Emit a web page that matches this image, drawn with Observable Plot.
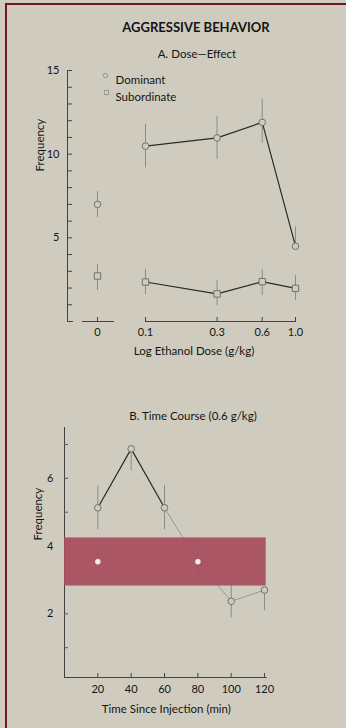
<!DOCTYPE html>
<html><head><meta charset="utf-8">
<script src="https://cdn.jsdelivr.net/npm/d3@7"></script>
<script src="https://cdn.jsdelivr.net/npm/@observablehq/plot@0.6"></script>
<style>
body{margin:0;background:#cfccbf;}
#fig{position:relative;width:346px;height:728px;background:#cfccbf;font-family:Lato,"Open Sans",sans-serif;color:#141414;overflow:hidden}
.t{position:absolute;white-space:nowrap;transform:translateX(-50%);line-height:14px}
.bl{position:absolute;background:#6e1822}
#pa,#pb{position:absolute;left:0}
#pa{top:60px}#pb{top:420px}
svg{background:transparent!important}
</style></head><body>
<div id="fig">
  <div class="bl" style="left:5px;top:3px;width:2px;height:725px"></div>
  <div class="bl" style="left:5px;top:3px;width:341px;height:2px"></div>
  <div class="t" style="left:196px;top:20px;font-weight:700;font-size:13px">AGGRESSIVE BEHAVIOR</div>
  <div class="t" style="left:197px;top:47px;font-size:11.5px">A. Dose—Effect</div>
  <div class="t" style="left:193px;top:409px;font-size:11.5px">B. Time Course (0.6 g/kg)</div>
  <div id="pa"></div>
  <div id="pb"></div>
</div>
<script>
// ---------- Panel A: dose-effect ----------
const doses = [0, 0.1, 0.3, 0.6, 1.0];
const doseLabels = ["0", "0.1", "0.3", "0.6", "1.0"];
const dominantA   = [7.0, 10.48, 10.97, 11.9, 4.5];
const dominantAHi = [7.76, 11.8, 12.26, 13.27, 5.65];
const dominantALo = [6.21, 9.18, 9.68, 10.65, 4.5];
const subordinateA   = [2.72, 2.36, 1.65, 2.38, 1.98];
const subordinateAHi = [3.43, 3.1, 2.44, 3.1, 2.74];
const subordinateALo = [1.85, 1.6, 0.95, 1.55, 1.25];
const yTicksA = d3.range(1, 16);

// ---------- Panel B: time course ----------
const times = [20, 40, 60, 80, 100, 120];
const dominantB   = [5.13, 6.87, 5.13, 3.54, 2.37, 2.7];
const dominantBHi = [5.78, 6.87, 5.78, 4.14, 2.97, 2.7];
const dominantBLo = [4.48, 6.22, 4.48, 2.94, 1.88, 2.09];
const controlBand = [{low: 2.82, high: 4.24}];
const controlTimes = [20, 80];
const controlMean = [3.54, 3.54];
const yTicksB = d3.range(1, 8);

const BG = "#cfccbf";
const INK = "#141414";
const CONTROL_POS = -1.32; // position of the 0-dose group on the log axis
const pos = d => d === 0 ? CONTROL_POS : Math.log10(d);
const labelByPos = new Map(doses.map((d, i) => [pos(d), doseLabels[i]]));

const rowsA = [];
doses.forEach((d, i) => {
  rowsA.push({dose: d, p: pos(d), v: dominantA[i], lo: dominantALo[i], hi: dominantAHi[i], g: "Dominant"});
  rowsA.push({dose: d, p: pos(d), v: subordinateA[i], lo: subordinateALo[i], hi: subordinateAHi[i], g: "Subordinate"});
});
const axisSegA = [{x1: -1.52, x2: -1.48}, {x1: -1.42, x2: -1.207}, {x1: -1, x2: 0.007}];

const style = {fontFamily: "Lato, 'Open Sans', sans-serif", fontSize: "11px", color: INK, background: "transparent"};

const plotA = Plot.plot({
  width: 346, height: 305,
  marginLeft: 67, marginRight: 46, marginTop: 10, marginBottom: 44,
  style,
  x: {type: "linear", domain: [-1.52, 0.0333], axis: null},
  y: {domain: [0, 15], axis: null},
  marks: [
    Plot.frame({anchor: "left", stroke: "#444"}),
    Plot.axisY(yTicksA, {tickSize: -5, tickPadding: 13, tickFormat: d => d % 5 === 0 ? d : "", stroke: "#444", fill: INK, label: null, fontSize: 11}),
    Plot.ruleY(axisSegA, {y: 0, x1: "x1", x2: "x2", stroke: "#444"}),
    Plot.axisX(doses.map(pos), {tickSize: -4, tickPadding: 11, tickFormat: d => labelByPos.get(d), stroke: "#444", fill: INK, label: null, fontSize: 11}),
    Plot.ruleX(rowsA, {x: "p", y1: "lo", y2: "hi", stroke: "#8a8a8a", strokeWidth: 1}),
    Plot.line(rowsA.filter(d => d.dose > 0), {x: "p", y: "v", z: "g", stroke: "#2a2a2a", strokeWidth: 1.2}),
    Plot.dot(rowsA.filter(d => d.g === "Dominant"), {x: "p", y: "v", r: 3.3, stroke: "#666", fill: BG, strokeWidth: 0.9}),
    Plot.dot(rowsA.filter(d => d.g === "Subordinate"), {x: "p", y: "v", r: 3.6, symbol: "square", stroke: "#666", fill: BG, strokeWidth: 0.9}),
    Plot.dot(["Dominant"], {frameAnchor: "top-left", dx: 38, dy: 5, r: 2.2, stroke: "#888", fill: BG, strokeWidth: 0.8}),
    Plot.dot(["Subordinate"], {frameAnchor: "top-left", dx: 39, dy: 22, r: 2.4, symbol: "square", stroke: "#888", fill: BG, strokeWidth: 0.8}),
    Plot.text(["Dominant"], {frameAnchor: "top-left", dx: 48, dy: 5, textAnchor: "start", fontSize: 11.5, fill: INK}),
    Plot.text(["Subordinate"], {frameAnchor: "top-left", dx: 48, dy: 22, textAnchor: "start", fontSize: 11.5, fill: INK}),
    Plot.text(["Frequency"], {frameAnchor: "left", rotate: -90, dx: -27, dy: -24.5, fontSize: 11.5, fill: INK}),
    Plot.text(["Log Ethanol Dose (g/kg)"], {frameAnchor: "bottom", dx: 10, dy: 33, fontSize: 11.5, fill: INK})
  ]
});
document.getElementById("pa").append(plotA);

const rowsB = times.map((t, i) => ({t, v: dominantB[i], lo: dominantBLo[i], hi: dominantBHi[i]}));
const ctrlRows = controlTimes.map((t, i) => ({t, v: controlMean[i]}));

const plotB = Plot.plot({
  width: 346, height: 300,
  marginLeft: 64, marginRight: 80.3, marginTop: 7, marginBottom: 43,
  style,
  x: {domain: [0, 121], axis: null},
  y: {domain: [0.12, 7.5], axis: null},
  marks: [
    Plot.frame({anchor: "left", stroke: "#444"}),
    Plot.frame({anchor: "bottom", stroke: "#444"}),
    Plot.axisY(yTicksB, {tickSize: -4, tickPadding: 15, tickFormat: d => d % 2 === 0 ? d : "", stroke: "#555", fill: INK, label: null, fontSize: 11}),
    Plot.axisX(times, {tickSize: -4, tickPadding: 12, stroke: "#444", fill: INK, label: null, fontSize: 11}),
    Plot.ruleX(rowsB, {x: "t", y1: "lo", y2: "hi", stroke: "#8a8a8a", strokeWidth: 1}),
    Plot.line(rowsB.filter(d => d.t <= 60), {x: "t", y: "v", stroke: "#2a2a2a", strokeWidth: 1.2}),
    Plot.line(rowsB.filter(d => d.t >= 60), {x: "t", y: "v", stroke: "#8a8a8a", strokeWidth: 0.8}),
    Plot.dot(rowsB, {x: "t", y: "v", r: 3.3, stroke: "#666", fill: BG, strokeWidth: 0.9}),
    Plot.rect(controlBand, {x1: 0, x2: 121, y1: "low", y2: "high", fill: "#a84c5c", fillOpacity: 0.93}),
    Plot.dot(ctrlRows, {x: "t", y: "v", r: 2.6, fill: "#f2f0e8", stroke: "#d8d4cc", strokeWidth: 0.5}),
    Plot.text(["Frequency"], {frameAnchor: "left", rotate: -90, dx: -26, dy: -12, fontSize: 11.5, fill: INK}),
    Plot.text(["Time Since Injection (min)"], {frameAnchor: "bottom", dx: 1, dy: 35, fontSize: 11.5, fill: INK})
  ]
});
document.getElementById("pb").append(plotB);
</script>
</body></html>
